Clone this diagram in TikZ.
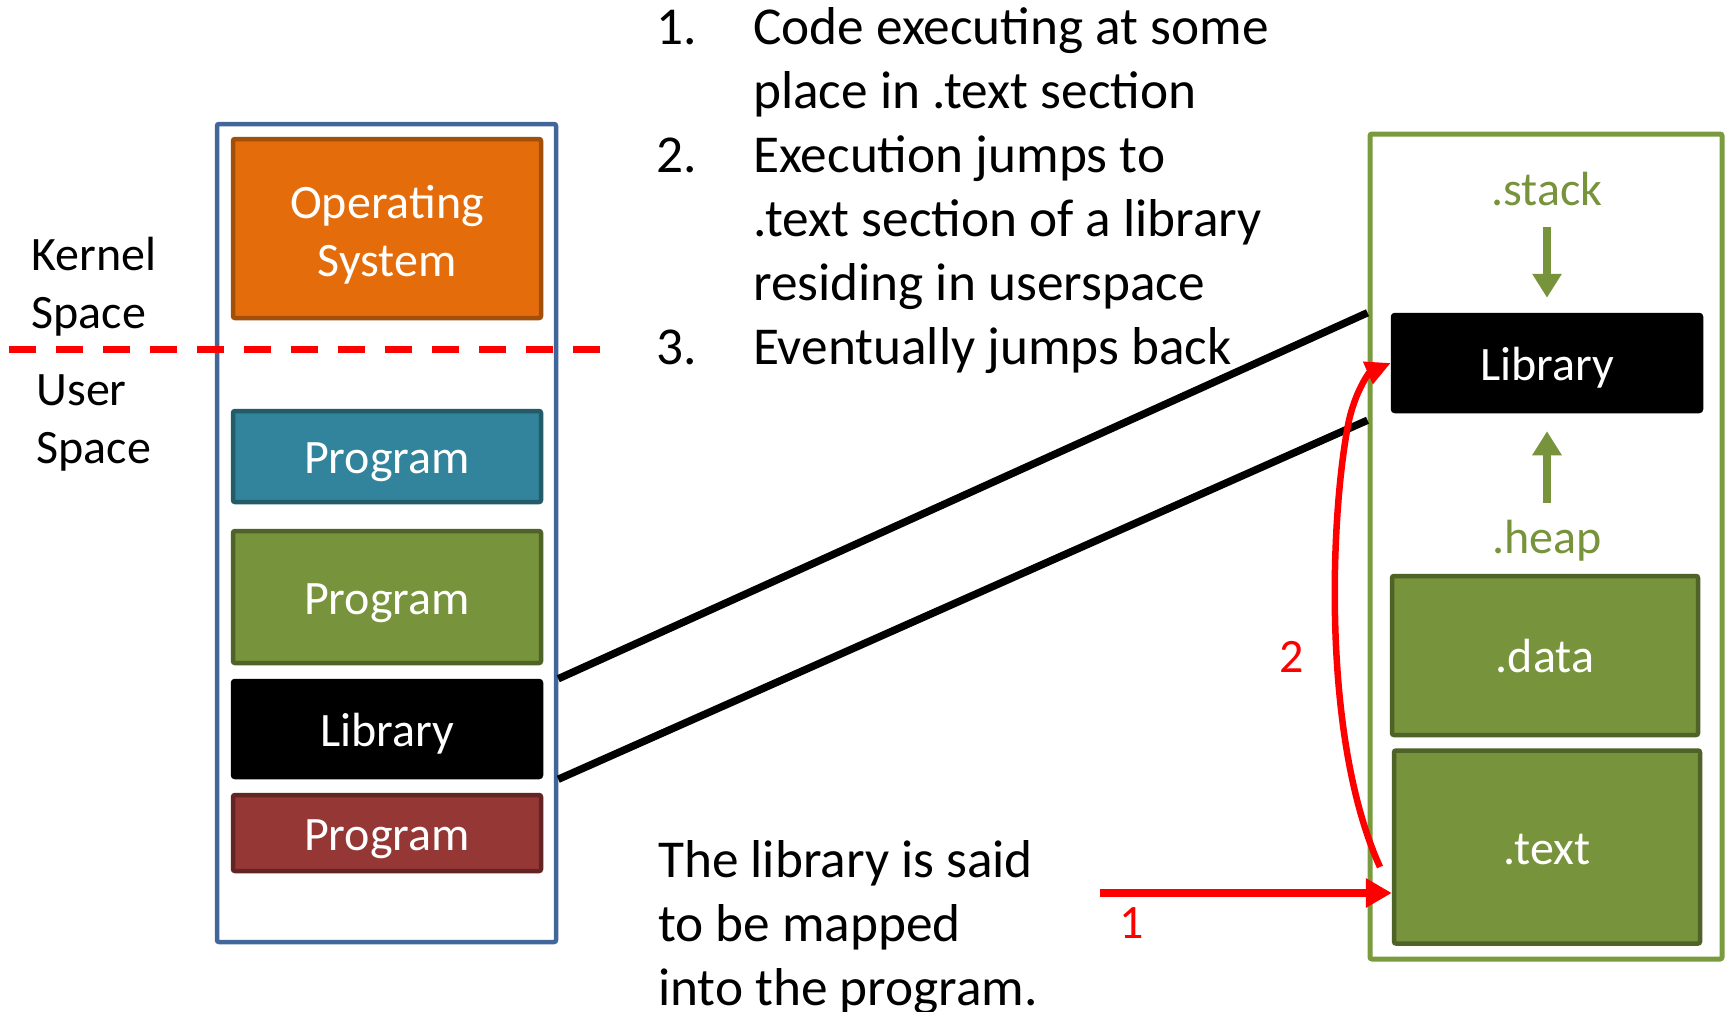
\documentclass[tikz,border=0pt]{standalone}
\usepackage{fontspec}
\setmainfont{Carlito}
\usetikzlibrary{arrows.meta,calc}
\definecolor{outerblue}{HTML}{41679A}
\definecolor{osfill}{HTML}{E46C0A}
\definecolor{osedge}{HTML}{A24F0A}
\definecolor{tealfill}{HTML}{31849B}
\definecolor{tealedge}{HTML}{235B69}
\definecolor{grfill}{HTML}{77933C}
\definecolor{gredge}{HTML}{4F6228}
\definecolor{rdfill}{HTML}{953735}
\definecolor{rdedge}{HTML}{632523}
\definecolor{frgreen}{HTML}{7A9A3E}
\definecolor{pured}{HTML}{FF0000}
\begin{document}
\begin{tikzpicture}[x=1pt,y=-1pt,
  memframe/.style={draw, line width=4.5pt, rounded corners=2pt, inner sep=0pt, fill=white},
  seg/.style={rectangle, draw, rounded corners=2pt, line width=4.5pt, inner sep=0pt,
    text=white, font=\fontsize{48}{58}\selectfont, text height=44pt, text depth=10pt},
  lbl/.style={font=\fontsize{48}{58}\selectfont, inner sep=0pt},
  body/.style={font=\fontsize{53.3}{64}\selectfont, inner sep=0pt, anchor=north west},
  garrow/.style={draw=grfill, line width=8pt, -{Triangle[length=24pt,width=28pt]}},
  redarrow/.style={draw=pured, line width=8pt, -{Triangle[length=26pt,width=28pt]}},
  redcurve/.style={draw=pured, line width=6.5pt, -{Triangle[length=25pt,width=23pt]}},
  mapline/.style={draw=black, line width=7.5pt}]
\useasboundingbox (0,0) rectangle (1725,1012);

% left memory column
\node[memframe, draw=outerblue, minimum width=339pt, minimum height=818pt] (outer) at (386.5,533) {};
\node[seg, fill=osfill, draw=osedge, minimum width=308pt, minimum height=179pt,
      align=center, text height=95pt, text depth=0pt] (os) at (387,228.5) {Operating\\System};
\node[seg, fill=tealfill, draw=tealedge, minimum width=308pt, minimum height=91pt] (prog1) at (387,456.5) {Program};
\node[seg, fill=grfill, draw=gredge, minimum width=308pt, minimum height=132pt] (prog2) at (387,597) {Program};
\node[seg, fill=black, draw=black, minimum width=308pt, minimum height=96pt] (lib) at (387,729) {Library};
\node[seg, fill=rdfill, draw=rdedge, minimum width=308pt, minimum height=76pt] (prog3) at (387,833) {Program};

% kernel / user separator
\coordinate (dl) at (9,349);
\coordinate (dr) at (605,349);
\draw[draw=pured, line width=7pt, dash pattern=on 27pt off 20pt] (dl) -- (dr);

\node[lbl, anchor=north west] (kern) at (31.3,229.4) {\begin{tabular}{@{}l@{}}Kernel\\Space\end{tabular}};
\node[lbl, anchor=north west] (user) at (36.3,364.4) {\begin{tabular}{@{}l@{}}User\\Space\end{tabular}};

% right process memory
\node[memframe, draw=frgreen, line width=5pt, minimum width=352pt, minimum height=825pt] (rbox) at (1546,546.5) {};
\node[seg, fill=black, draw=black, minimum width=308pt, minimum height=96pt] (rlib) at (1547,363) {Library};
\node[seg, fill=grfill, draw=gredge, minimum width=306pt, minimum height=159pt] (rdata) at (1545,655.5) {.data};
\node[seg, fill=grfill, draw=gredge, minimum width=306pt, minimum height=193pt] (rtext) at (1547,847) {.text};
\node[lbl, text=grfill, anchor=base] (stack) at (1547,205) {.stack};
\node[lbl, text=grfill, anchor=base] (heap) at (1547,553) {.heap};
\draw[garrow] ([yshift=-22pt]stack.base) -- ([yshift=15pt]rlib.north);
\draw[garrow] ([yshift=50pt]heap.base) -- ([yshift=-18pt]rlib.south);

% mapping lines
\draw[mapline] (outer.east |- lib.north) -- (rbox.west |- rlib.north);
\draw[mapline] (outer.east |- lib.south) -- ($(rbox.west |- rlib.south)+(0,7)$);

% explanatory text
\node[body] (steps) at (656,-0.8) {\begin{tabular}{@{}p{97pt}@{}l@{}}
1. & Code executing at some\\
   & place in .text section\\
2. & Execution jumps to\\
   & .text section of a library\\
   & residing in userspace\\
3. & Eventually jumps back
\end{tabular}};
\node[body] (note) at (658,832.2) {\begin{tabular}{@{}l@{}}
The library is said\\
to be mapped\\
into the program.
\end{tabular}};

% red arrows
\coordinate (a1s) at (1100,893);
\draw[redarrow] (a1s) -- (a1s -| rtext.west);
\node[lbl, text=pured, anchor=base] (n1) at (1132,938) {1};
\coordinate (c2s) at (1380,867);
\draw[redcurve] (c2s) .. controls (1322,740) and (1330,520) .. (1348,425)
                      .. controls (1355,390) and (1370,372) .. (rlib.west);
\node[lbl, text=pured, anchor=base] (n2) at (1292,672) {2};
\end{tikzpicture}
\end{document}
